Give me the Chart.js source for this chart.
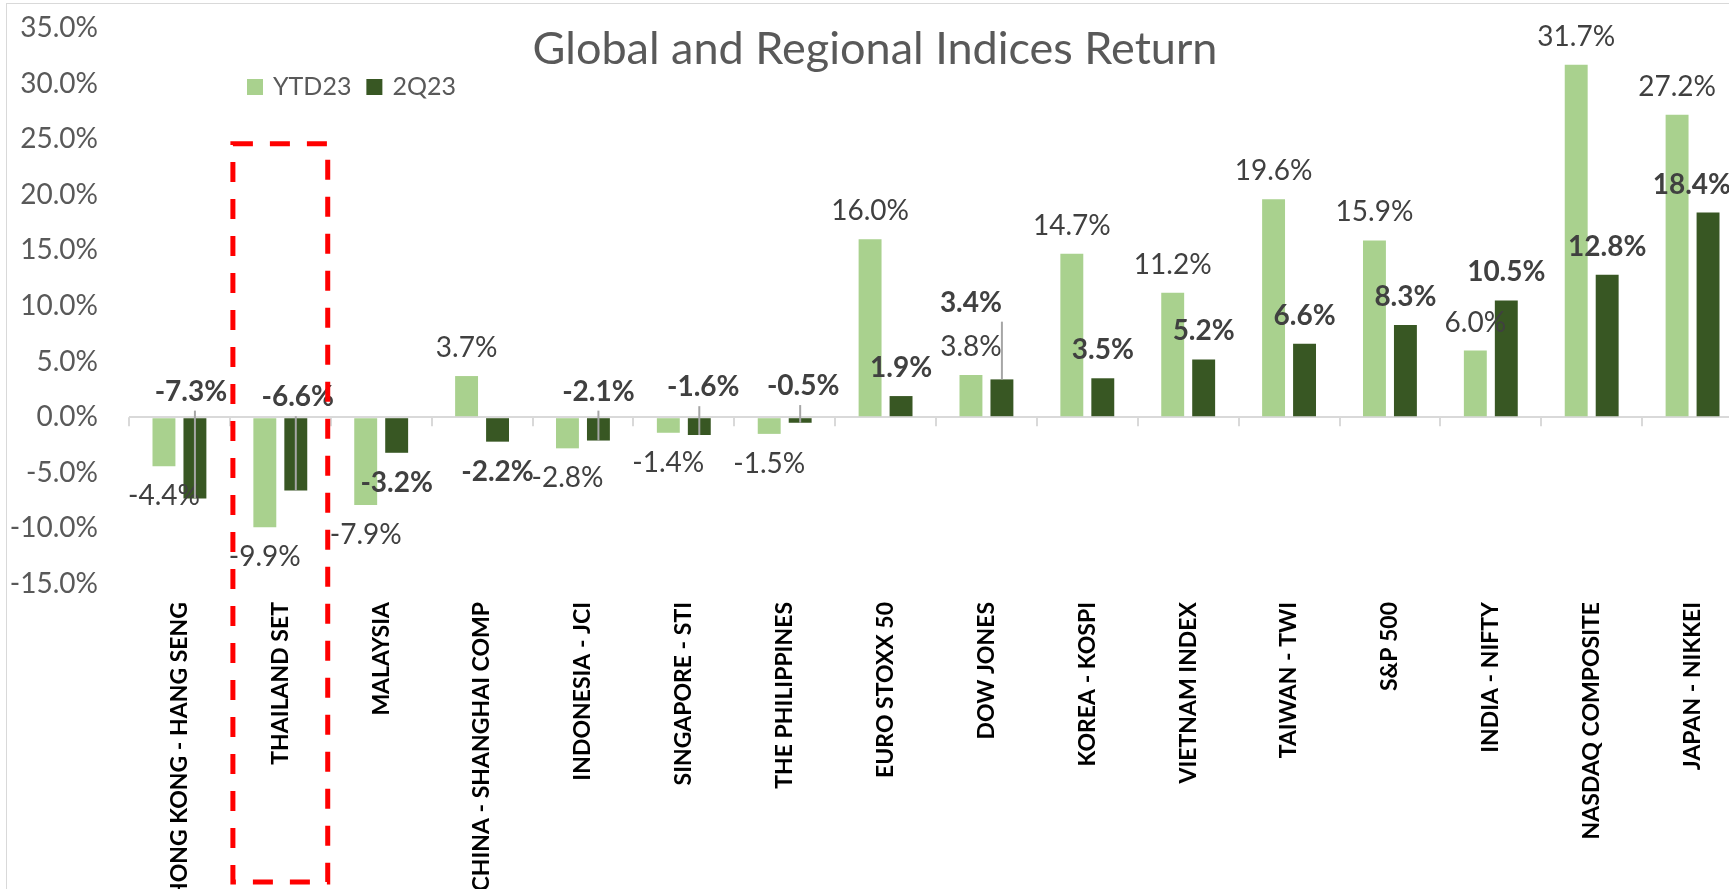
<!DOCTYPE html>
<html>
<head>
<meta charset="utf-8">
<script src="https://cdn.jsdelivr.net/npm/chart.js@4.4.1/dist/chart.umd.min.js"></script>
<style>
  html, body { margin: 0; padding: 0; background: #fff; overflow: hidden; }
  #wrap { width: 1750px; height: 889px; }
</style>
</head>
<body>
<div id="wrap"><canvas id="indexChart" width="1750" height="889"></canvas></div>
<script>
// values (percent)
const categories = ['HONG KONG - HANG SENG', 'THAILAND SET', 'MALAYSIA', 'CHINA - SHANGHAI COMP',
    'INDONESIA - JCI', 'SINGAPORE - STI', 'THE PHILIPPINES', 'EURO STOXX 50', 'DOW JONES',
    'KOREA - KOSPI', 'VIETNAM INDEX', 'TAIWAN - TWI', 'S&P 500', 'INDIA - NIFTY',
    'NASDAQ COMPOSITE', 'JAPAN - NIKKEI'];
const ytd23 = [-4.4, -9.9, -7.9, 3.7, -2.8, -1.4, -1.5, 16.0, 3.8, 14.7, 11.2, 19.6, 15.9, 6.0, 31.7, 27.2];
const q2_23 = [-7.3, -6.6, -3.2, -2.2, -2.1, -1.6, -0.5, 1.9, 3.4, 3.5, 5.2, 6.6, 8.3, 10.5, 12.8, 18.4];
const seriesNames = ['YTD23', '2Q23'];
const yMin = -15, yMax = 35, yStep = 5;
const highlighted = 1; // THAILAND SET gets the red box

const colors = {
    ytd: '#A9D18E',
    q2: '#385723',
    text: '#595959',
    value: '#404040',
    axis: '#D9D9D9',
    leader: '#A6A6A6'
};

// 2Q23 labels that were dragged away from the bar end (value to sit at, x nudge)
const movedQ2Labels = {
    0: { at: 2.3, dx: -4 },
    1: { at: 1.8, dx: 2 },
    4: { at: 2.3, dx: 0 },
    5: { at: 2.7, dx: 4 },
    6: { at: 2.8, dx: 3 },
    8: { at: 10.3, dx: -31 }
};

const pageWidth = 1729;

const decorations = {
    id: 'decorations',
    afterDatasetsDraw(chart) {
        const { ctx, chartArea, scales: { x, y } } = chart;
        const y0 = y.getPixelForValue(0);
        const step = (chartArea.right - chartArea.left) / categories.length;

        // small tick marks under the zero line, between categories
        ctx.save();
        ctx.strokeStyle = colors.axis;
        ctx.lineWidth = 2;
        for (let i = 0; i <= categories.length; i++) {
            const px = Math.round(chartArea.left + i * step);
            ctx.beginPath();
            ctx.moveTo(px, y0);
            ctx.lineTo(px, y0 + 9);
            ctx.stroke();
        }

        // data labels
        ctx.textAlign = 'center';
        ctx.textBaseline = 'middle';
        chart.data.datasets.forEach((ds, di) => {
            const meta = chart.getDatasetMeta(di);
            ctx.font = (di === 1 ? 'bold ' : '') + '28px Lato';
            meta.data.forEach((bar, i) => {
                const v = ds.data[i];
                const text = v.toFixed(1) + '%';
                const w = ctx.measureText(text).width;
                let lx = bar.x;
                let ly = v >= 0 ? bar.y - 28 : bar.y + 30;
                const moved = di === 1 ? movedQ2Labels[i] : null;
                if (moved) {
                    lx = bar.x + moved.dx;
                    ly = y.getPixelForValue(moved.at);
                    const sx = Math.max(lx - w / 2, Math.min(lx + w / 2, bar.x));
                    ctx.strokeStyle = colors.leader;
                    ctx.lineWidth = 2;
                    ctx.beginPath();
                    ctx.moveTo(sx, ly + 19);
                    ctx.lineTo(bar.x, bar.y);
                    ctx.stroke();
                }
                lx = Math.min(lx, pageWidth - w / 2 + 2);
                ctx.fillStyle = colors.value;
                ctx.fillText(text, lx, ly);
            });
        });
        ctx.restore();
    },
    afterDraw(chart) {
        const { ctx, scales: { x, y } } = chart;
        ctx.save();

        // chart border
        ctx.strokeStyle = '#D9D9D9';
        ctx.lineWidth = 1;
        ctx.strokeRect(6.5, 3.5, chart.width, chart.height + 10);

        // title
        ctx.fillStyle = colors.text;
        ctx.font = '45px Lato';
        ctx.textAlign = 'center';
        ctx.textBaseline = 'alphabetic';
        ctx.fillText('Global and Regional Indices Return', chart.width / 2, 64);

        // legend
        ctx.font = '25px Lato';
        ctx.textAlign = 'left';
        let lx = 247;
        [colors.ytd, colors.q2].forEach((c, i) => {
            ctx.fillStyle = c;
            ctx.fillRect(lx, 79, 16, 16);
            ctx.fillStyle = colors.text;
            ctx.fillText(seriesNames[i], lx + 26, 95);
            lx += 26 + ctx.measureText(seriesNames[i]).width + 15;
        });

        // red dashed box around the highlighted market
        const cw = x.getPixelForValue(1) - x.getPixelForValue(0);
        const cx = x.getPixelForValue(highlighted);
        const top = y.getPixelForValue(24.6);
        ctx.strokeStyle = '#FF0000';
        ctx.lineWidth = 5;
        ctx.setLineDash([20, 17]);
        ctx.strokeRect(cx - cw * 0.47, top, cw * 0.94, 882 - top);
        ctx.restore();
    }
};

const ctx = document.getElementById('indexChart').getContext('2d');
const indexChart = new Chart(ctx, {
    type: 'bar',
    data: {
        labels: categories,
        datasets: [{
            label: seriesNames[0],
            data: ytd23,
            backgroundColor: colors.ytd,
            barPercentage: 0.74,
            categoryPercentage: 0.614
        }, {
            label: seriesNames[1],
            data: q2_23,
            backgroundColor: colors.q2,
            barPercentage: 0.74,
            categoryPercentage: 0.614
        }]
    },
    options: {
        responsive: false,
        animation: false,
        devicePixelRatio: 1,
        layout: { padding: { top: 28, right: 7, left: 0, bottom: 0 } },
        plugins: {
            legend: { display: false },
            title: { display: false },
            tooltip: { enabled: false }
        },
        scales: {
            x: {
                grid: { display: false, drawTicks: false },
                border: { display: false },
                ticks: {
                    autoSkip: false,
                    minRotation: 90,
                    maxRotation: 90,
                    padding: 18,
                    color: '#000000',
                    font: { family: 'Lato', weight: 'bold', size: 23 }
                },
                afterFit(scale) { scale.height = 305; }
            },
            y: {
                min: yMin,
                max: yMax,
                border: { display: false },
                grid: {
                    drawTicks: false,
                    lineWidth: 2,
                    color: c => (c.tick && c.tick.value === 0 ? colors.axis : 'rgba(0,0,0,0)')
                },
                ticks: {
                    stepSize: yStep,
                    padding: 31,
                    color: colors.text,
                    font: { family: 'Lato', size: 28 },
                    callback: v => v.toFixed(1) + '%'
                },
                afterFit(scale) {
                    scale.width = 129;
                    // tick padding would otherwise push the plot top down
                    scale.paddingTop = 0;
                    scale.paddingBottom = 0;
                }
            }
        }
    },
    plugins: [decorations]
});
</script>
</body>
</html>
